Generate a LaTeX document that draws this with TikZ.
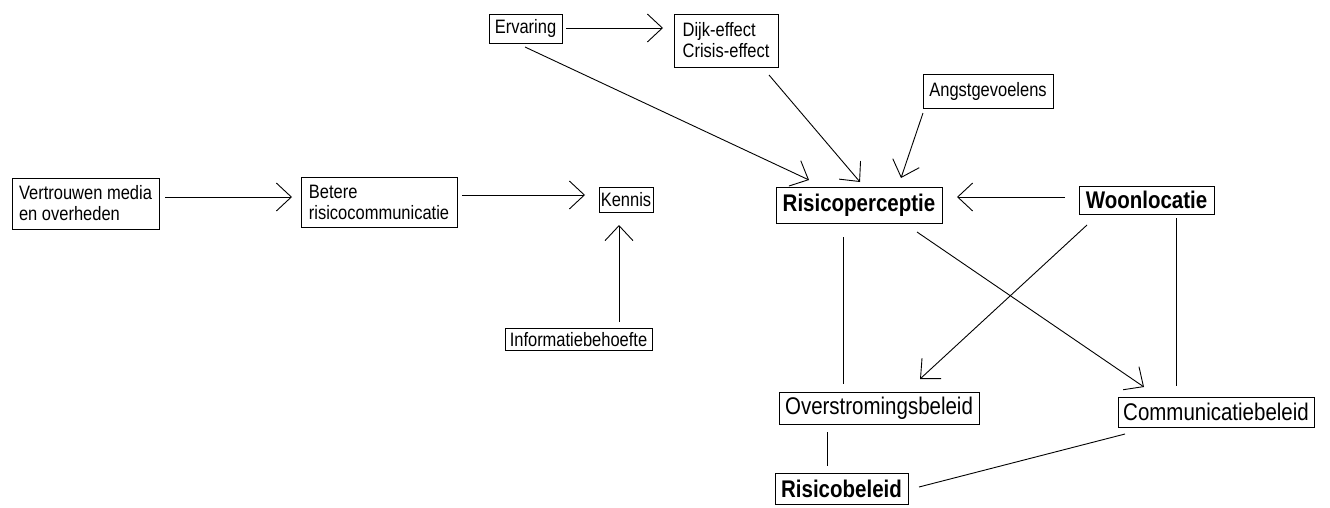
\documentclass[tikz,border=0pt]{standalone}
\usepackage{fontspec}
\setmainfont{Liberation Sans}[FakeStretch=0.85]
\usetikzlibrary{arrows.meta}
\newcommand\smfnt{\fontsize{19.4}{21}\selectfont}
\newcommand\lgfnt{\fontsize{24.1}{26}\selectfont}
\begin{document}
\begin{tikzpicture}[x=1pt,y=-1pt,
  box/.style={draw, line width=1pt, rectangle, inner sep=0pt, align=left, font=\smfnt},
  bigbox/.style={box, font=\lgfnt},
  boldbox/.style={box, font=\lgfnt\bfseries},
  conn/.style={line width=0.9pt},
  arr/.style={conn, -{Straight Barb[length=15pt,width=28pt,line width=0.9pt]}}]
\useasboundingbox (0,0) rectangle (1330,507);
\fill[white] (0,0) rectangle (1330,507);
% nodes
\node[box, minimum width=147pt, minimum height=51pt] (vert) at (85.5,203.5) {Vertrouwen media\\en overheden};
\node[box, minimum width=156pt, minimum height=50pt] (betere) at (379,202) {Betere\\risicocommunicatie};
\node[box, minimum width=54pt, minimum height=25pt] (kennis) at (626,199.5) {Kennis};
\node[box, minimum width=147pt, minimum height=22pt] (info) at (578.5,339.5) {Informatiebehoefte};
\node[box, minimum width=73pt, minimum height=29pt] (erv) at (525.5,28.5) {Ervaring};
\node[box, minimum width=104pt, minimum height=53pt] (dijk) at (726,40.5) {Dijk-effect\\Crisis-effect};
\node[box, minimum width=130pt, minimum height=34pt] (angst) at (988,91) {Angstgevoelens};
\node[boldbox, minimum width=166pt, minimum height=36pt] (risico) at (859,205) {Risicoperceptie};
\node[boldbox, minimum width=135pt, minimum height=28pt] (woon) at (1146.5,200) {Woonlocatie};
\node[bigbox, minimum width=200pt, minimum height=32pt] (over) at (879,408) {Overstromingsbeleid};
\node[bigbox, minimum width=196pt, minimum height=30pt] (comm) at (1216,412) {Communicatiebeleid};
\node[boldbox, minimum width=133pt, minimum height=31pt] (rbel) at (841.5,488.5) {Risicobeleid};
% connector end points
\coordinate (c1a) at (165,197);  \coordinate (c1b) at (292,197);
\coordinate (c2a) at (462,195);  \coordinate (c2b) at (585,195);
\coordinate (c3a) at (619,322);  \coordinate (c3b) at (619,225);
\coordinate (c4a) at (566,28);   \coordinate (c4b) at (663,28);
\coordinate (c5a) at (525,47);   \coordinate (c5b) at (809,180);
\coordinate (c6a) at (769,75);   \coordinate (c6b) at (860,182);
\coordinate (c7a) at (923,113);  \coordinate (c7b) at (901,178);
\coordinate (c8a) at (1065,197); \coordinate (c8b) at (957,197);
\coordinate (c9a) at (843,237);  \coordinate (c9b) at (843,384);
\coordinate (c10a) at (917,232); \coordinate (c10b) at (1144,387);
\coordinate (c11a) at (1087,225);\coordinate (c11b) at (920,379);
\coordinate (c12a) at (1176,218);\coordinate (c12b) at (1176,386);
\coordinate (c13a) at (827,432); \coordinate (c13b) at (827,466);
\coordinate (c14a) at (1125,434);\coordinate (c14b) at (919,487);
% connectors
\draw[arr] (c1a) -- (c1b);
\draw[arr] (c2a) -- (c2b);
\draw[arr] (c3a) -- (c3b);
\draw[arr] (c4a) -- (c4b);
\draw[arr] (c5a) -- (c5b);
\draw[arr] (c6a) -- (c6b);
\draw[arr] (c7a) -- (c7b);
\draw[arr] (c8a) -- (c8b);
\draw[conn] (c9a) -- (c9b);
\draw[arr] (c10a) -- (c10b);
\draw[arr] (c11a) -- (c11b);
\draw[conn] (c12a) -- (c12b);
\draw[conn] (c13a) -- (c13b);
\draw[conn] (c14a) -- (c14b);
\end{tikzpicture}
\end{document}
